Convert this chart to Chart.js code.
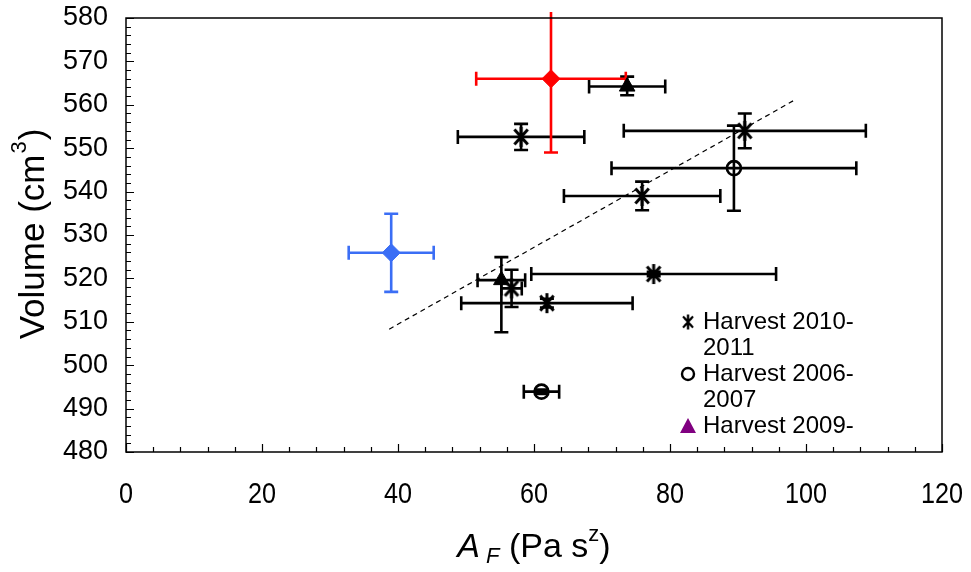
<!DOCTYPE html>
<html>
<head>
<meta charset="utf-8">
<script src="https://cdn.jsdelivr.net/npm/chart.js@4.4.0/dist/chart.umd.min.js"></script>
<style>
  html, body { margin: 0; padding: 0; background: #fff; }
</style>
</head>
<body>
<canvas id="chart" width="971" height="572"></canvas>
<script>
// Harvest 2010-2011 (asterisks)
const h1011X = [58.1, 91.0, 75.9, 77.6, 56.7, 61.9];
const h1011Y = [552.6, 554.0, 539.0, 521.0, 517.7, 514.3];
const h1011XErr = [9.3, 17.8, 11.5, 18.0, 1.5, 12.6];
const h1011YErr = [3.0, 4.0, 3.3, 0.5, 4.3, 1.0];

// Harvest 2006-2007 (open circles)
const h0607X = [89.4, 61.1];
const h0607Y = [545.4, 493.9];
const h0607XErr = [18.0, 2.6];
const h0607YErr = [9.8, 0.5];

// Harvest 2009- (triangles)
const h09X = [73.7, 55.2];
const h09Y = [564.2, 519.6];
const h09XErr = [5.6, 3.5];
const h09YErrUp = [2.3, 5.3];
const h09YErrDown = [2.0, 12.0];

// reference points
const redX = [62.5], redY = [566.0], redXErr = [11.0], redYErr = [17.0];
const blueX = [39.0], blueY = [525.9], blueXErr = [6.25], blueYErr = [9.0];

// dashed trend line
const trendX = [38.7, 98.1];
const trendY = [508.3, 560.9];

const legendNames = [['Harvest 2010-', '2011'], ['Harvest 2006-', '2007'], ['Harvest 2009-']];

const FONT = '"Liberation Sans", Arial, sans-serif';

function pts(xs, ys) {
    return xs.map((x, i) => ({ x: x, y: ys[i] }));
}

// asterisk marker: vertical bar plus an X
function makeAsterisk(size) {
    const c = document.createElement('canvas');
    c.width = size; c.height = size;
    const g = c.getContext('2d');
    const m = size / 2, r = size / 2 - 2;
    g.strokeStyle = '#000';
    g.lineWidth = 3;
    g.beginPath();
    g.moveTo(m, m - r); g.lineTo(m, m + r);
    const a = 48 * Math.PI / 180;
    const dx = Math.cos(a) * r, dy = Math.sin(a) * r;
    g.moveTo(m - dx, m - dy); g.lineTo(m + dx, m + dy);
    g.moveTo(m - dx, m + dy); g.lineTo(m + dx, m - dy);
    g.stroke();
    return c;
}
const asterisk = makeAsterisk(24);

// error bars, drawn under the markers (cut off a little above the frame)
const errorBars = {
    id: 'errorBars',
    beforeDatasetsDraw(chart) {
        const ctx = chart.ctx;
        const xs = chart.scales.x, ys = chart.scales.y;
        const a = chart.chartArea;
        const cap = 7;
        ctx.save();
        ctx.beginPath();
        ctx.rect(0, a.top - 6, chart.width, chart.height);
        ctx.clip();
        chart.data.datasets.forEach(ds => {
            if (!ds.errX) return;
            ctx.strokeStyle = ds.errColor;
            ctx.lineWidth = 2.6;
            ds.data.forEach((p, i) => {
                const px = xs.getPixelForValue(p.x), py = ys.getPixelForValue(p.y);
                const x1 = xs.getPixelForValue(p.x - ds.errX[i]);
                const x2 = xs.getPixelForValue(p.x + ds.errX[i]);
                const y1 = ys.getPixelForValue(p.y + ds.errYUp[i]);
                const y2 = ys.getPixelForValue(p.y - ds.errYDown[i]);
                ctx.beginPath();
                ctx.moveTo(x1, py); ctx.lineTo(x2, py);
                ctx.moveTo(x1, py - cap); ctx.lineTo(x1, py + cap);
                ctx.moveTo(x2, py - cap); ctx.lineTo(x2, py + cap);
                ctx.moveTo(px, y1); ctx.lineTo(px, y2);
                ctx.moveTo(px - cap, y1); ctx.lineTo(px + cap, y1);
                ctx.moveTo(px - cap, y2); ctx.lineTo(px + cap, y2);
                ctx.stroke();
            });
        });
        ctx.restore();
    }
};

// frame, inward ticks, x tick labels, titles and legend
const decorations = {
    id: 'decorations',
    afterDraw(chart) {
        const ctx = chart.ctx;
        const a = chart.chartArea;
        const xs = chart.scales.x, ys = chart.scales.y;
        ctx.save();
        ctx.strokeStyle = '#000';
        ctx.lineWidth = 1.5;
        ctx.strokeRect(a.left, a.top, a.right - a.left, a.bottom - a.top);

        ctx.lineWidth = 1.2;
        ctx.beginPath();
        for (let v = 480; v <= 580; v += 2) {
            const y = Math.round(ys.getPixelForValue(v)) + 0.5;
            const len = v % 10 === 0 ? 8 : 5;
            ctx.moveTo(a.left, y); ctx.lineTo(a.left + len, y);
        }
        for (let v = 0; v <= 120; v += 4) {
            const x = Math.round(xs.getPixelForValue(v)) + 0.5;
            const len = v % 20 === 0 ? 8 : 5;
            ctx.moveTo(x, a.bottom); ctx.lineTo(x, a.bottom - len);
        }
        ctx.stroke();

        // x tick labels, slightly condensed like the original
        ctx.fillStyle = '#000';
        ctx.font = '30px ' + FONT;
        ctx.textAlign = 'center';
        ctx.textBaseline = 'middle';
        xs.ticks.forEach(t => {
            ctx.save();
            ctx.translate(xs.getPixelForValue(t.value), 495);
            ctx.scale(0.84, 1);
            ctx.fillText(String(t.value), 0, 0);
            ctx.restore();
        });

        // y title: Volume (cm3)
        ctx.save();
        ctx.translate(34, (a.top + a.bottom) / 2);
        ctx.rotate(-Math.PI / 2);
        ctx.textBaseline = 'middle';
        const big = '35px ' + FONT, small = '22px ' + FONT;
        ctx.font = big;
        const s1 = 'Volume (cm', s3 = ')';
        const w1 = ctx.measureText(s1).width, w3 = ctx.measureText(s3).width;
        ctx.font = small;
        const w2 = ctx.measureText('3').width;
        let x0 = -(w1 + w2 + w3) / 2;
        ctx.font = big;
        ctx.textAlign = 'left';
        ctx.fillText(s1, x0, 0);
        ctx.font = small;
        ctx.fillText('3', x0 + w1 + 1, -14);
        ctx.font = big;
        ctx.fillText(s3, x0 + w1 + w2 + 2, 0);
        ctx.restore();

        // x title: A_F (Pa s^z)
        const parts = [
            { t: 'A', f: 'italic 34px ' + FONT, dy: 0 },
            { t: ' F', f: 'italic 22px ' + FONT, dy: 9 },
            { t: ' (Pa s', f: '34px ' + FONT, dy: 0 },
            { t: 'z', f: '22px ' + FONT, dy: -13 },
            { t: ')', f: '34px ' + FONT, dy: 0 }
        ];
        let total = 0;
        parts.forEach(p => { ctx.font = p.f; p.w = ctx.measureText(p.t).width; total += p.w; });
        let cx = (a.left + a.right) / 2 - total / 2;
        ctx.textBaseline = 'middle';
        ctx.textAlign = 'left';
        parts.forEach(p => { ctx.font = p.f; ctx.fillText(p.t, cx, 548 + p.dy); cx += p.w; });

        // legend
        let ly = 322;
        const lx = 688;
        ctx.font = '24px ' + FONT;
        legendNames.forEach((lines, i) => {
            if (i === 0) {
                ctx.drawImage(asterisk, lx - 9, ly - 9, 18, 18);
            } else if (i === 1) {
                ctx.strokeStyle = '#000';
                ctx.lineWidth = 2.4;
                ctx.beginPath();
                ctx.arc(lx, ly, 6, 0, Math.PI * 2);
                ctx.stroke();
            } else {
                ctx.fillStyle = '#800080';
                ctx.beginPath();
                ctx.moveTo(lx, ly - 8); ctx.lineTo(lx + 8, ly + 7); ctx.lineTo(lx - 8, ly + 7);
                ctx.closePath();
                ctx.fill();
            }
            ctx.fillStyle = '#000';
            lines.forEach(line => {
                ctx.fillText(line, lx + 15, ly);
                ly += 26;
            });
        });
        ctx.restore();
    }
};

new Chart(document.getElementById('chart'), {
    type: 'scatter',
    data: {
        datasets: [
            {
                label: 'trend',
                data: pts(trendX, trendY),
                showLine: true,
                borderColor: '#000',
                borderWidth: 1.2,
                borderDash: [5, 4],
                pointRadius: 0
            },
            {
                label: 'Harvest 2010-2011',
                data: pts(h1011X, h1011Y),
                errX: h1011XErr, errYUp: h1011YErr, errYDown: h1011YErr, errColor: '#000',
                pointStyle: asterisk,
                pointRadius: 10
            },
            {
                label: 'Harvest 2006-2007',
                data: pts(h0607X, h0607Y),
                errX: h0607XErr, errYUp: h0607YErr, errYDown: h0607YErr, errColor: '#000',
                pointStyle: 'circle',
                pointRadius: 7,
                borderColor: '#000',
                borderWidth: 2.6,
                backgroundColor: 'rgba(0,0,0,0)'
            },
            {
                label: 'Harvest 2009-',
                data: pts(h09X, h09Y),
                errX: h09XErr, errYUp: h09YErrUp, errYDown: h09YErrDown, errColor: '#000',
                pointStyle: 'triangle',
                pointRadius: 9,
                borderColor: '#000',
                borderWidth: 1,
                backgroundColor: '#000'
            },
            {
                label: 'red',
                data: pts(redX, redY),
                errX: redXErr, errYUp: redYErr, errYDown: redYErr, errColor: '#ff0000',
                pointStyle: 'rectRot',
                pointRadius: 9,
                borderColor: '#ff0000',
                backgroundColor: '#ff0000'
            },
            {
                label: 'blue',
                data: pts(blueX, blueY),
                errX: blueXErr, errYUp: blueYErr, errYDown: blueYErr, errColor: '#3b6ef5',
                pointStyle: 'rectRot',
                pointRadius: 9,
                borderColor: '#3b6ef5',
                backgroundColor: '#3b6ef5'
            }
        ]
    },
    options: {
        responsive: false,
        animation: false,
        layout: { padding: { top: 18, right: 29, left: 0, bottom: 0 } },
        plugins: {
            legend: { display: false },
            tooltip: { enabled: false }
        },
        scales: {
            x: {
                type: 'linear',
                min: 0,
                max: 120,
                afterFit: s => { s.height = 120; s.paddingLeft = 0; s.paddingRight = 0; },
                grid: { display: false, drawTicks: false },
                border: { display: false },
                ticks: { stepSize: 20, display: false }
            },
            y: {
                min: 480,
                max: 580,
                afterFit: s => { s.width = 126; s.paddingTop = 0; s.paddingBottom = 0; },
                grid: { display: false, drawTicks: false },
                border: { display: false },
                ticks: { stepSize: 10, padding: 18, color: '#000', font: { size: 27, family: FONT } }
            }
        }
    },
    plugins: [errorBars, decorations]
});
</script>
</body>
</html>
